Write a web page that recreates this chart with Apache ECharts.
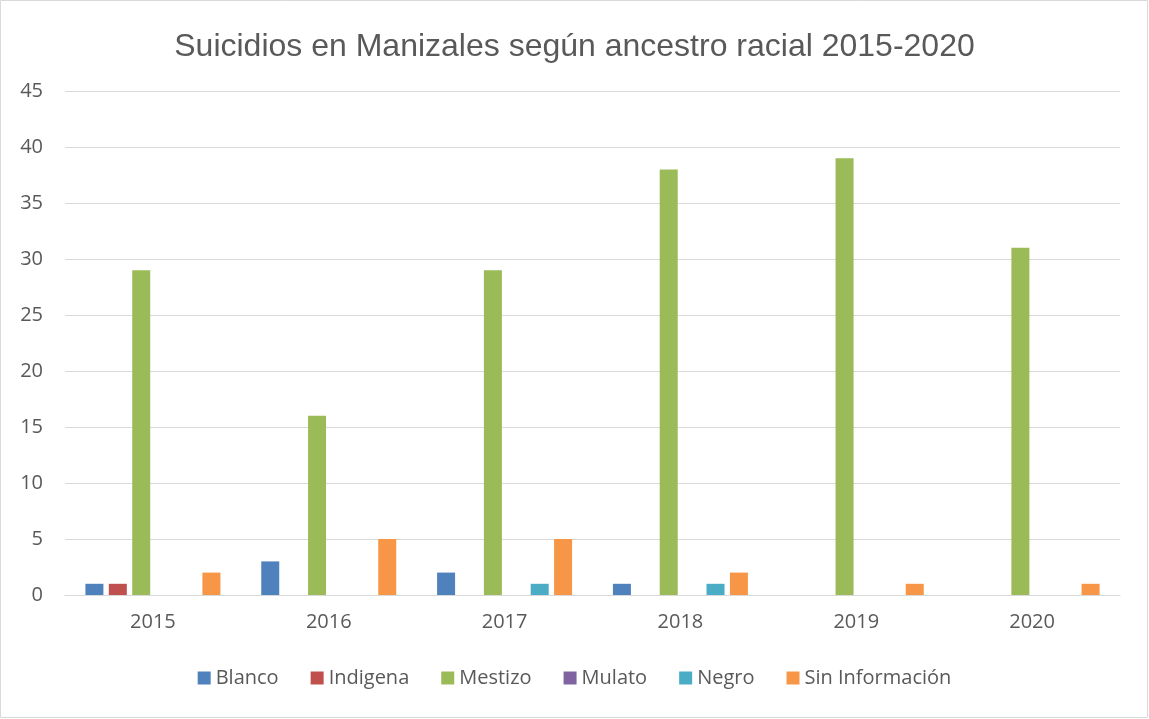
<!DOCTYPE html>
<html><head><meta charset="utf-8">
<script src="https://cdn.jsdelivr.net/npm/echarts@6/dist/echarts.min.js"></script>
<style>html,body{margin:0;padding:0;background:#fff}#c{width:1149px;height:719px}</style>
</head><body><div id="c"></div>
<script>
const categories = ['2015','2016','2017','2018','2019','2020'];
const blanco = [1,3,2,1,0,0];
const indigena = [1,0,0,0,0,0];
const mestizo = [29,16,29,38,39,31];
const mulato = [0,0,0,0,0,0];
const negro = [0,0,1,1,0,0];
const sinInfo = [2,5,5,2,1,1];
const seriesNames = ['Blanco','Indigena','Mestizo','Mulato','Negro','Sin Información'];
const seriesData = [blanco, indigena, mestizo, mulato, negro, sinInfo];
const colors = ['#4F81BD','#C0504D','#9BBB59','#8064A2','#4BACC6','#F79646'];
const chart = echarts.init(document.getElementById('c'));
chart.setOption({
  animation:false,
  color: colors,
  title:{text:'Suicidios en Manizales según ancestro racial 2015-2020', left:'center', top:26,
    textStyle:{fontFamily:'Liberation Sans', fontSize:32, fontWeight:'normal', color:'#595959'}},
  graphic:[{type:'rect', shape:{x:0.5,y:0.5,width:1147,height:717}, style:{fill:'none', stroke:'#d9d9d9', lineWidth:1}}],
  legend:{bottom:26, itemWidth:13, itemHeight:13, itemGap:32, icon:'rect',
    textStyle:{fontFamily:'Open Sans', fontSize:20, color:'#595959'}},
  grid:{left:65, right:29, top:91, bottom:124},
  xAxis:{type:'category', data:categories,
    axisLine:{lineStyle:{color:'#d9d9d9'}}, axisTick:{show:false},
    axisLabel:{fontFamily:'Open Sans', fontSize:20, color:'#595959', margin:17}},
  yAxis:{type:'value', min:0, max:45, interval:5,
    axisLine:{show:false}, axisTick:{show:false},
    splitLine:{lineStyle:{color:'#d9d9d9'}},
    axisLabel:{fontFamily:'Open Sans', fontSize:20, color:'#595959', margin:22}},
  series: seriesNames.map((n,i)=>({name:n, type:'bar', data:seriesData[i], barWidth:18, barGap:'30%'}))
});
</script></body></html>
